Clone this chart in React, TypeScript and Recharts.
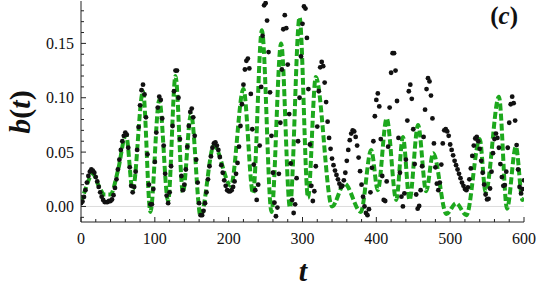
import { ComposedChart, Scatter, Line, XAxis, YAxis, ReferenceLine } from "recharts";

// black dots: sampled every DT time units, starting at t = 0
const DT = 2;
const blackB = [
  0.003, 0.0045, 0.0088, 0.015, 0.022, 0.028, 0.032, 0.034, 0.033, 0.031,
  0.027, 0.023, 0.018, 0.013, 0.009, 0.006, 0.004, 0.004, 0.004, 0.005,
  0.005, 0.0064, 0.0104, 0.017, 0.025, 0.034, 0.043, 0.052, 0.06, 0.065,
  0.068, 0.066, 0.054, 0.036, 0.019, 0.013, 0.018, 0.032, 0.052, 0.073,
  0.093, 0.107, 0.112, 0.103, 0.082, 0.048, 0.02, 0.002, 0.002, 0.016,
  0.041, 0.068, 0.091, 0.101, 0.098, 0.081, 0.056, 0.03, 0.01, 0.003,
  0.013, 0.037, 0.074, 0.106, 0.125, 0.125, 0.1, 0.062, 0.028, 0.015,
  0.02, 0.034, 0.055, 0.074, 0.087, 0.09, 0.082, 0.065, 0.043, 0.022,
  0.003, -0.008, -0.008, -0.004, 0.003, 0.013, 0.025, 0.037, 0.046, 0.054,
  0.058, 0.059, 0.056, 0.052, 0.0455, 0.038, 0.031, 0.024, 0.019, 0.015,
  0.014, 0.014, 0.015, 0.018, 0.023, 0.03, 0.04, 0.055, 0.074, 0.094,
  0.112, 0.126, 0.134, 0.136, 0.127, 0.1035, 0.071, 0.0385, 0.015, 0.006,
  0.02, 0.056, 0.11, 0.157, 0.185, 0.187, 0.171, 0.142, 0.105, 0.065,
  0.031, 0.0035, -0.009, -0.001, 0.03, 0.077, 0.126, 0.163, 0.176, 0.164,
  0.1305, 0.085, 0.0395, 0.006, -0.006, 0.002, 0.026, 0.06, 0.1, 0.138,
  0.168, 0.184, 0.182, 0.155, 0.108, 0.057, 0.019, 0.005, 0.014, 0.037,
  0.0735, 0.106, 0.128, 0.133, 0.129, 0.114, 0.096, 0.078, 0.063, 0.053,
  0.044, 0.038, 0.033, 0.029, 0.025, 0.021, 0.018, 0.019, 0.024, 0.031,
  0.042, 0.052, 0.061, 0.067, 0.07, 0.069, 0.064, 0.056, 0.045, 0.0325,
  0.02, 0.009, 0.0, -0.006, -0.008, -0.0025, 0.013, 0.0355, 0.06, 0.083,
  0.098, 0.104, 0.092, 0.062, 0.028, 0.006, 0.005, 0.023, 0.055, 0.091,
  0.123, 0.141, 0.141, 0.125, 0.097, 0.063, 0.031, 0.009, 0.0, 0.012,
  0.043, 0.079, 0.106, 0.112, 0.099, 0.071, 0.039, 0.011, -0.002, 0.0004,
  0.015, 0.037, 0.064, 0.089, 0.108, 0.118, 0.115, 0.102, 0.081, 0.058,
  0.036, 0.021, 0.015, 0.022, 0.0385, 0.058, 0.07, 0.071, 0.069, 0.065,
  0.057, 0.052, 0.047, 0.042, 0.038, 0.034, 0.03, 0.026, 0.022, 0.019,
  0.016, 0.015, 0.0176, 0.025, 0.035, 0.0465, 0.056, 0.0625, 0.064, 0.06,
  0.053, 0.042, 0.031, 0.02, 0.011, 0.0065, 0.007, 0.0165, 0.032, 0.049,
  0.062, 0.067, 0.063, 0.054, 0.039, 0.027, 0.019, 0.0197, 0.032, 0.054,
  0.077, 0.094, 0.101, 0.095, 0.079, 0.0565, 0.034, 0.018, 0.012, 0.016,
  0.024,
];

// green dashed curve: turning points (and a few shoulders)
const greenT = [
  0, 6, 16, 24, 32, 40, 50, 61, 70, 84, 94, 106, 118, 128, 138, 149, 162, 180,
  203, 220, 233, 245, 258, 271, 283, 296, 307.5, 318, 340, 357, 379, 393, 402,
  414, 427, 436, 445, 456.5, 467.5, 477, 495, 508, 522, 540, 548, 566, 577, 589,
  598, 600,
];
const greenB = [
  0.003, 0.016, 0.03, 0.019, 0.011, 0.011, 0.033, 0.066, 0.015, 0.106, -0.005,
  0.098, 0.005, 0.12, 0.013, 0.085, -0.009, 0.056, 0.019, 0.108, 0.012, 0.162,
  -0.005, 0.15, -0.001, 0.174, 0.008, 0.119, 0.0, 0.021, -0.005, 0.052, 0.015,
  0.081, 0.006, 0.064, 0.006, 0.075, 0.014, 0.049, -0.007, 0.003, -0.008, 0.062,
  0.013, 0.101, -0.002, 0.055, 0.006, 0.008,
];

const xTicks = [0, 20, 40, 60, 80, 100, 120, 140, 160, 180, 200, 220, 240, 260, 280, 300,
  320, 340, 360, 380, 400, 420, 440, 460, 480, 500, 520, 540, 560, 580, 600];
const yTicks = [-0.01, 0, 0.01, 0.02, 0.03, 0.04, 0.05, 0.06, 0.07, 0.08, 0.09, 0.1,
  0.11, 0.12, 0.13, 0.14, 0.15, 0.16, 0.17, 0.18];

const blackData = blackB.map((b, i) => ({ t: i * DT, b }));
const greenData = greenT.map((t, i) => ({ t, g: greenB[i] }));

const FONT = "Liberation Serif";
const INK = "#222";
const GREEN = "#1da81d";

const isMajorX = (v: number) => v % 100 === 0;
const isMajorY = (v: number) => Math.round(v * 100) % 5 === 0;

function BottomTick({ x, y, payload }: any) {
  const v = payload.value;
  const major = isMajorX(v);
  return (
    <g>
      <line x1={x} x2={x} y1={y} y2={y - (major ? 5 : 3)} stroke={INK} />
      {major && (
        <text x={x} y={y + 22} textAnchor="middle" style={{ fontFamily: FONT, fontSize: 16 }} fill="#111">
          {v}
        </text>
      )}
    </g>
  );
}

function TopTick({ x, y, payload }: any) {
  const major = isMajorX(payload.value);
  return <line x1={x} x2={x} y1={y} y2={y + (major ? 5 : 3)} stroke={INK} />;
}

function LeftTick({ x, y, payload }: any) {
  const v = payload.value;
  const major = isMajorY(v);
  return (
    <g>
      <line x1={x} x2={x + (major ? 5 : 3)} y1={y} y2={y} stroke={INK} />
      {major && (
        <text x={x - 7} y={y} dy="0.35em" textAnchor="end" style={{ fontFamily: FONT, fontSize: 16 }} fill="#111">
          {v.toFixed(2)}
        </text>
      )}
    </g>
  );
}

function RightTick({ x, y, payload }: any) {
  const major = isMajorY(payload.value);
  return <line x1={x} x2={x - (major ? 5 : 3)} y1={y} y2={y} stroke={INK} />;
}

export default function App() {
  const yDomain = [-0.0143, 0.189];
  return (
    <div style={{ position: "absolute", left: 0, top: 0, width: 540, height: 294 }}>
      <ComposedChart width={540} height={294} margin={{ top: 1, right: 16, bottom: 0, left: 0 }}>
        <XAxis
          dataKey="t"
          type="number"
          domain={[0, 600]}
          allowDataOverflow
          ticks={xTicks}
          interval={0}
          height={72}
          tickSize={0}
          tickMargin={0}
          tickLine={false}
          tick={BottomTick}
          axisLine={{ stroke: INK }}
        />
        <XAxis
          xAxisId="top"
          orientation="top"
          type="number"
          domain={[0, 600]}
          allowDataOverflow
          ticks={xTicks}
          interval={0}
          height={0}
          tickSize={0}
          tickMargin={0}
          tickLine={false}
          tick={TopTick}
          axisLine={{ stroke: INK }}
        />
        <YAxis
          type="number"
          domain={yDomain}
          allowDataOverflow
          ticks={yTicks}
          interval={0}
          width={81}
          tickSize={0}
          tickMargin={0}
          tickLine={false}
          tick={LeftTick}
          axisLine={{ stroke: INK }}
        />
        <YAxis
          yAxisId="right"
          orientation="right"
          type="number"
          domain={yDomain}
          allowDataOverflow
          ticks={yTicks}
          interval={0}
          width={0}
          tickSize={0}
          tickMargin={0}
          tickLine={false}
          tick={RightTick}
          axisLine={{ stroke: INK }}
        />
        <ReferenceLine y={0} stroke="#dcdcdc" strokeWidth={1} />
        <Scatter
          data={blackData}
          dataKey="b"
          isAnimationActive={false}
          shape={(p: any) => <circle cx={p.cx} cy={p.cy} r={2.4} fill="#111" />}
        />
        <Line
          data={greenData}
          dataKey="g"
          type="monotone"
          stroke={GREEN}
          strokeWidth={4}
          strokeDasharray="7 3"
          dot={false}
          activeDot={false}
          isAnimationActive={false}
        />
      </ComposedChart>
      <svg width={540} height={294} style={{ position: "absolute", left: 0, top: 0, pointerEvents: "none" }}>
        <text
          transform="translate(30 112) rotate(-90)"
          textAnchor="middle"
          style={{ fontFamily: FONT, fontWeight: "bold", fontSize: 30 }}
          fill="#111"
        >
          <tspan fontStyle="italic">b</tspan>
          <tspan>(</tspan>
          <tspan fontStyle="italic">t</tspan>
          <tspan>)</tspan>
        </text>
        <text x={303} y={281} textAnchor="middle" style={{ fontFamily: FONT, fontWeight: "bold", fontStyle: "italic", fontSize: 30 }} fill="#111">
          t
        </text>
        <text x={518} y={24} textAnchor="end" style={{ fontFamily: FONT, fontWeight: "bold", fontSize: 25 }} fill="#111">
          (<tspan fontStyle="italic">c</tspan>)
        </text>
      </svg>
    </div>
  );
}
